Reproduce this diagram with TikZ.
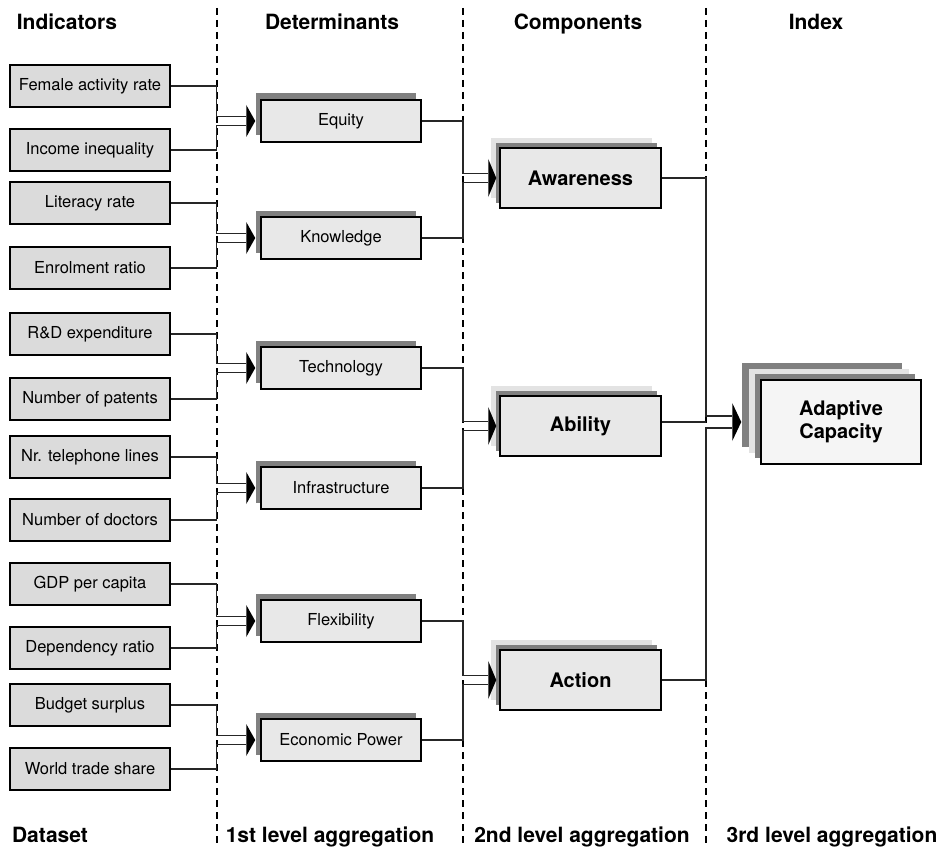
\documentclass[tikz,border=0pt]{standalone}
\usepackage{fontspec}
\setmainfont{TeX Gyre Heros}
\usetikzlibrary{calc,shadows}

\begin{document}
\begin{tikzpicture}[x=1pt,y=-1pt,
  indicator/.style={draw,line width=1.5pt,fill=black!14,minimum width=160pt,
    minimum height=42pt,inner sep=1pt,font=\fontsize{16.5}{19}\selectfont},
  determinant/.style={indicator,fill=black!9,
    general shadow={fill=black!50,draw=none,shadow xshift=-5.5pt,shadow yshift=6.5pt}},
  component/.style={draw,line width=1.5pt,fill=black!9,minimum width=161pt,
    minimum height=60pt,font=\fontsize{20}{23}\selectfont\bfseries,
    general shadow={fill=black!11,draw=none,shadow xshift=-9pt,shadow yshift=10pt},
    general shadow={fill=black!50,draw=none,shadow xshift=-4.5pt,shadow yshift=5pt}},
  index/.style={draw,line width=1.5pt,fill=black!4,minimum width=160pt,
    minimum height=84pt,align=center,font=\fontsize{20}{23}\selectfont\bfseries,
    general shadow={fill=black!50,draw=none,shadow xshift=-19pt,shadow yshift=17pt},
    general shadow={fill=black!11,draw=none,shadow xshift=-12pt,shadow yshift=11pt},
    general shadow={fill=black!50,draw=none,shadow xshift=-6pt,shadow yshift=6pt}},
  heading/.style={anchor=base,font=\fontsize{21}{24}\selectfont\bfseries},
  divider/.style={line width=2pt,dash pattern=on 7pt off 5pt},
  link/.style={line width=1.2pt,black!85}]
  \useasboundingbox (0,0) rectangle (940,848);

  % column borders
  \coordinate (c1) at (216.5,8);
  \coordinate (c2) at (463,8);
  \coordinate (c3) at (706,8);
  \draw[divider] (c1) -- ++(0,840);
  \draw[divider] (c2) -- ++(0,840);
  \draw[divider] (c3) -- ++(0,840);

  \node[heading] (hind) at (67,29.5) {Indicators};
  \node[heading] (hdet) at (332,29.5) {Determinants};
  \node[heading] (hcom) at (578,29.5) {Components};
  \node[heading] (hidx) at (816,29.5) {Index};
  \node[heading] (fdat) at (50,842) {Dataset};
  \node[heading] (fone) at (330,842) {1st level aggregation};
  \node[heading] (ftwo) at (582,842) {2nd level aggregation};
  \node[heading] (fthr) at (832,842) {3rd level aggregation};

  % indicators
  \node[indicator] (fem) at (90,86) {Female activity rate};
  \node[indicator] (inc) at (90,150) {Income inequality};
  \node[indicator] (lit) at (90,203) {Literacy rate};
  \node[indicator] (enr) at (90,268) {Enrolment ratio};
  \node[indicator] (rnd) at (90,334) {R\&D expenditure};
  \node[indicator] (pat) at (90,399) {Number of patents};
  \node[indicator] (tel) at (90,457) {Nr. telephone lines};
  \node[indicator] (doc) at (90,520) {Number of doctors};
  \node[indicator] (gdp) at (90,584) {GDP per capita};
  \node[indicator] (dep) at (90,648) {Dependency ratio};
  \node[indicator] (bud) at (90,705) {Budget surplus};
  \node[indicator] (wts) at (90,769) {World trade share};

  % determinants
  \node[determinant] (equ) at (341,121) {Equity};
  \node[determinant] (kno) at (341,238) {Knowledge};
  \node[determinant] (tec) at (341,368) {Technology};
  \node[determinant] (inf) at (341,488) {Infrastructure};
  \node[determinant] (fle) at (341,621) {Flexibility};
  \node[determinant] (eco) at (341,740) {Economic Power};

  % components and index
  \node[component] (awa) at (580.5,178) {Awareness};
  \node[component] (abi) at (580.5,426) {Ability};
  \node[component] (act) at (580.5,680) {Action};
  \node[index] (cap) at (841,422) {Adaptive\\Capacity};

  \foreach \up/\dn/\tgt/\cut/\off/\len/\hgt/\gap in {
      fem/inc/equ/c1/5/9/32/4.5, lit/enr/kno/c1/5/9/32/4.5,
      rnd/pat/tec/c1/5/9/32/4.5, tel/doc/inf/c1/5/9/32/4.5,
      gdp/dep/fle/c1/5/9/32/4.5, bud/wts/eco/c1/5/9/32/4.5,
      equ/kno/awa/c2/3/8/38/4.5, tec/inf/abi/c2/3/8/38/4.5,
      fle/eco/act/c2/3/8/38/4.5, awa/act/cap/c3/19/9/38/6} {
    \coordinate (tip) at ($(\tgt.west)+(-\off,0)$);
    \draw[link] (\up.east) -| ($(\cut |- tip)+(0,-\gap)$) -- ($(tip)+(-\len,-\gap)$);
    \draw[link] (\dn.east) -| ($(\cut |- tip)+(0,\gap)$) -- ($(tip)+(-\len,\gap)$);
    \fill (tip) -- ++(-\len,-\hgt/2) -- ++(0,\hgt) -- cycle;
  }
  \draw[link] (abi.east |- cap) -- (c3 |- cap);
\end{tikzpicture}
\end{document}
